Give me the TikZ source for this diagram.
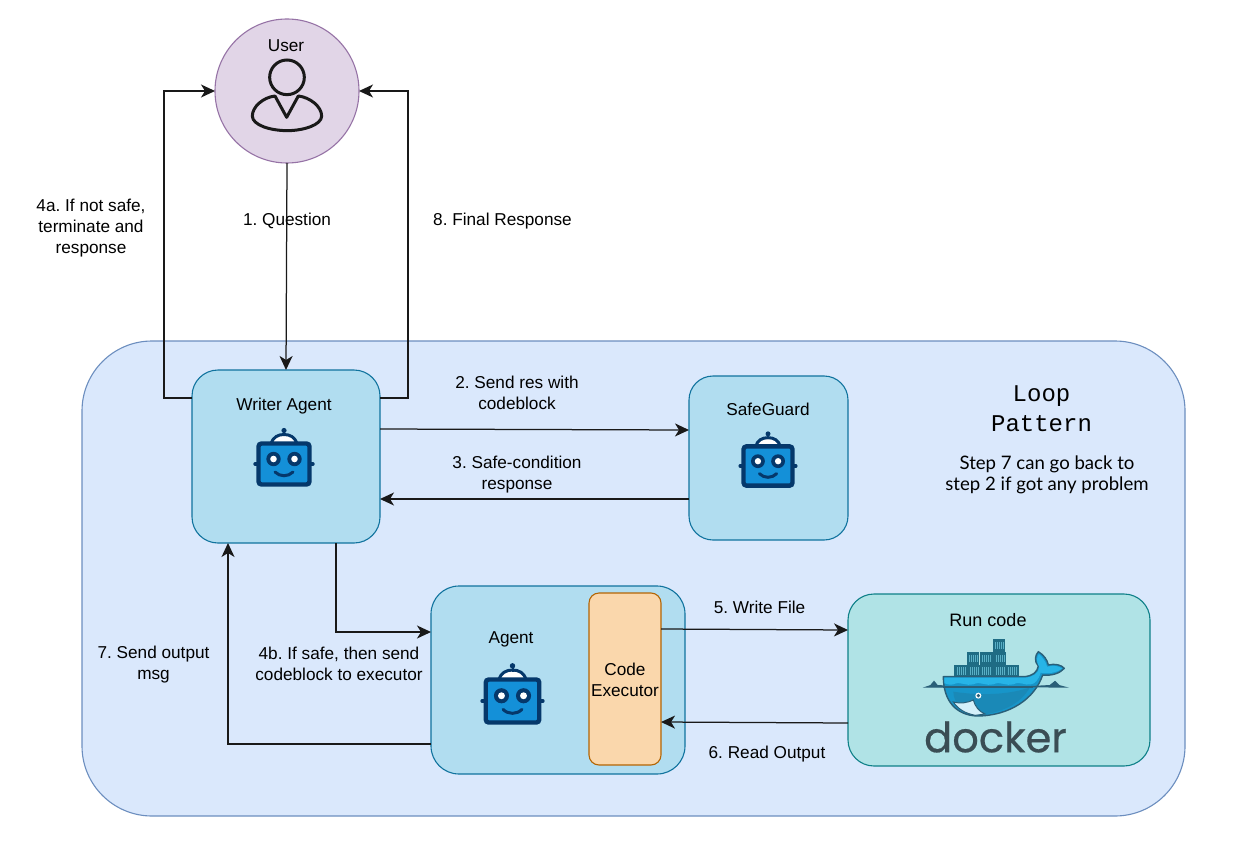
\documentclass[tikz,border=0pt]{standalone}
\usepackage{fontspec}
\setmainfont{Liberation Sans}
\newfontfamily\monof{Liberation Mono}
\newfontfamily\casual{Lato}
\newfontfamily\dockerf[FakeBold=0.5]{Poppins}
\usetikzlibrary{arrows.meta}
\definecolor{contF}{HTML}{DAE8FC}\definecolor{contD}{HTML}{6C8EBF}
\definecolor{boxF}{HTML}{B1DDF0}\definecolor{boxD}{HTML}{10739E}
\definecolor{execF}{HTML}{FAD7AC}\definecolor{execD}{HTML}{B46504}
\definecolor{runF}{HTML}{B0E3E6}\definecolor{runD}{HTML}{0E8088}
\definecolor{userF}{HTML}{E1D5E7}\definecolor{userD}{HTML}{9673A6}
\definecolor{navy}{HTML}{05386B}\definecolor{robotB}{HTML}{1490D8}
\definecolor{dockLine}{HTML}{2A5F78}\definecolor{dockBlue}{HTML}{1795C9}
\definecolor{dockLight}{HTML}{27B4E6}\definecolor{dockBox}{HTML}{1F6C84}
\definecolor{dockStripe}{HTML}{5AB0C6}\definecolor{dockText}{HTML}{3A4D54}
\tikzset{
  base/.style={draw,line width=1.1pt,inner sep=0pt,outer sep=0pt},
  lbl/.style={inner sep=0pt,outer sep=0pt,align=center,font=\frenchspacing\fontsize{17.2}{21}\selectfont,text=black},
  conn/.style={draw=black!90,line width=1.25pt,-{Stealth[length=14pt,width=13pt,inset=4pt]}}
}
\newcommand{\robot}[3]{%
  \begin{scope}[shift={(#1,#2)},x=#3pt,y=-#3pt]
    \draw[navy,line width=3.4pt,line cap=round] (-29,0)--(29,0);
    \draw[navy,fill=white,line width=3pt] (-13,-20) .. controls (-11,-27) and (-6,-29.5) .. (0,-29.5) .. controls (6,-29.5) and (11,-27) .. (13,-20) -- cycle;
    \fill[navy] (0,-33.5) circle[radius=2.6];
    \draw[navy,line width=2pt] (0,-33)--(0,-28);
    \draw[navy,fill=robotB,line width=4.4pt,rounded corners=3pt] (-25.5,-20.5) rectangle (25.5,20.5);
    \foreach \ex in {-10.5,10.5}{
      \fill[navy] (\ex,-5) circle[radius=7.2];
      \fill[white] (\ex,-5) circle[radius=3.3];
    }
    \draw[navy,line width=3pt,line cap=round] (-9,8) .. controls (-4,13) and (4,13) .. (9,8);
  \end{scope}}
\begin{document}
\begin{tikzpicture}[x=1pt,y=-1pt]
\useasboundingbox (0,0) rectangle (1246,845);
\fill[white] (0,0) rectangle (1246,845);
% containers and boxes
\node[base,draw=contD,fill=contF,rounded corners=70pt,minimum width=1103pt,minimum height=475pt] (loop) at (633.5,578.5) {};
\node[base,draw=userD,fill=userF,circle,minimum size=144pt] (user) at (287,91) {};
\node[base,draw=boxD,fill=boxF,rounded corners=26pt,minimum width=188pt,minimum height=173pt] (writer) at (286,456.5) {};
\node[base,draw=boxD,fill=boxF,rounded corners=24pt,minimum width=159pt,minimum height=164pt] (safe) at (768.5,458) {};
\node[base,draw=boxD,fill=boxF,rounded corners=28pt,minimum width=254pt,minimum height=188pt] (agent) at (558,680) {};
\node[base,draw=execD,fill=execF,rounded corners=10pt,minimum width=72pt,minimum height=172pt] (exec) at (625,679) {};
\node[base,draw=runD,fill=runF,rounded corners=26pt,minimum width=302pt,minimum height=172pt] (run) at (999,680) {};
% connectors
\draw[conn] (user.south) -- (writer.north);
\draw[conn] (writer.west |- 0,398) -- (164,398) -- (164,91) -- (user.west);
\draw[conn] (writer.east |- 0,398) -- (408,398) -- (408,91) -- (user.east);
\draw[conn] (writer.east |- 0,429) -- (safe.west |- 0,430);
\draw[conn] (safe.west |- 0,499) -- (writer.east |- 0,499);
\draw[conn] (336,543) -- (336,632) -- (agent.west |- 0,632);
\draw[conn] (agent.west |- 0,744) -- (228,744) -- (228,543);
\draw[conn] (exec.east |- 0,629) -- (run.west |- 0,630);
\draw[conn] (run.west |- 0,723) -- (exec.east |- 0,722);
% person icon
\begin{scope}[shift={(200,10)},x=.3333pt,y=-.3333pt]
  \draw[black!90,line width=3pt] (261,202) circle[radius=52];
  \draw[black!90,line width=3pt,line join=round] (225,258) -- (260,322) -- (295,258)
    .. controls (330,262) and (365,290) .. (365,318)
    .. controls (365,345) and (310,362) .. (262,362)
    .. controls (210,362) and (157,345) .. (157,318)
    .. controls (157,290) and (190,262) .. (225,258) -- cycle;
\end{scope}
% robots
\robot{284}{464}{1}
\robot{768}{466}{.96}
\robot{512.5}{701}{1.05}
% docker logo
\begin{scope}[shift={(910,630)},x=.3333pt,y=-.3333pt]
  \foreach \bx/\by in {248/28,170/67,210/67,250/67,133/105,172/105,210/105,250/105,288/105}{
    \fill[dockBox] (\bx,\by) rectangle ++(38,37);
    \foreach \k in {7,13,19,25,31}{\fill[dockStripe] ({\bx+\k},{\by+7}) rectangle ++(2,23);}
  }
  \draw[dockLine,fill=dockBlue,line width=1.4pt,line join=round]
    (100,140) -- (345,140)
    .. controls (365,138) and (382,128) .. (385,108)
    .. controls (372,95) and (375,75) .. (385,65)
    .. controls (402,75) and (412,90) .. (415,105)
    .. controls (435,100) and (455,105) .. (463,115)
    .. controls (450,130) and (425,138) .. (398,135)
    .. controls (375,205) and (300,258) .. (200,258)
    .. controls (140,255) and (100,215) .. (100,140) -- cycle;
  \fill[dockLight] (103,143) -- (345,143)
    .. controls (370,141) and (385,130) .. (388,112)
    .. controls (378,95) and (380,80) .. (387,72)
    .. controls (397,82) and (408,95) .. (411,110)
    .. controls (430,105) and (448,108) .. (456,116)
    .. controls (440,128) and (418,132) .. (392,128)
    .. controls (385,150) and (375,162) .. (362,163)
    .. controls (345,168) and (330,152) .. (310,163)
    .. controls (290,170) and (270,152) .. (250,163)
    .. controls (230,170) and (210,152) .. (190,163)
    .. controls (170,170) and (150,152) .. (130,163)
    .. controls (118,167) and (108,160) .. (103,160) -- cycle;
  \draw[dockLine,line width=1.3pt,fill=dockLine] (50,171) -- (62,167) -- (72,155) -- (82,167) -- (100,168) -- (100,171) -- cycle;
  \draw[dockLine,line width=1.3pt,fill=dockLine] (362,170) -- (420,167) -- (435,155) -- (447,167) -- (462,171) -- cycle;
  \draw[dockLine,line width=2pt] (100,170) -- (370,170);
  \fill[dockLine!60!dockBlue,opacity=.35] (130,185) .. controls (230,200) and (310,190) .. (360,172) .. controls (330,225) and (270,250) .. (200,256) .. controls (160,250) and (130,220) .. (130,185) -- cycle;
  \draw[dockLine,fill=white!80!dockLight,line width=1pt] (130,216) .. controls (150,222) and (175,218) .. (190,210)
    .. controls (195,230) and (208,245) .. (225,252) -- (196,256)
    .. controls (165,250) and (145,238) .. (130,216) -- cycle;
  \fill[white] (205,197) circle[radius=9];
  \fill[dockLine] (205,197) circle[radius=5.5];
\end{scope}
% labels
\node[lbl] (tUser) at (286,45.5) {User};
\node[lbl] (tQ) at (287,220.5) {1. Question};
\node[lbl] (tFinal) at (502.5,221) {8. Final Response};
\node[lbl] (t4a) at (91,228) {4a. If not safe,\\terminate and\\response};
\node[lbl] (tWriter) at (284,406.5) {Writer Agent};
\node[lbl,font=\frenchspacing\fontsize{17.2}{20.5}\selectfont] (t2) at (517,393) {2. Send res with\\codeblock};
\node[lbl] (tSafe) at (768,409.5) {SafeGuard};
\node[lbl] (t3) at (517,475) {3. Safe-condition\\response};
\node[lbl,font=\monof\fontsize{24}{29.5}\selectfont] (tLoop) at (1041.5,408.5) {Loop\\Pattern};
\node[lbl,font=\frenchspacing\casual\fontsize{18.6}{21}\selectfont] (tStep) at (1047,475) {Step 7 can go back to\\step 2 if got any problem};
\node[lbl] (tAgent) at (511,639) {Agent};
\node[lbl] (tExec) at (625,679.5) {Code\\Executor};
\node[lbl] (t5) at (759.5,607.5) {5. Write File};
\node[lbl,font=\fontsize{18}{21}\selectfont] (tRun) at (988,620) {Run code};
\node[lbl] (t6) at (767,754.5) {6. Read Output};
\node[lbl] (t7) at (153.5,664.5) {7. Send output\\msg};
\node[lbl] (t4b) at (339,664) {4b. If safe, then send\\codeblock to executor};
\node[lbl,font=\dockerf\fontsize{41.6}{42}\selectfont,text=dockText] (tDocker) at (995.5,737) {docker};
\end{tikzpicture}
\end{document}
